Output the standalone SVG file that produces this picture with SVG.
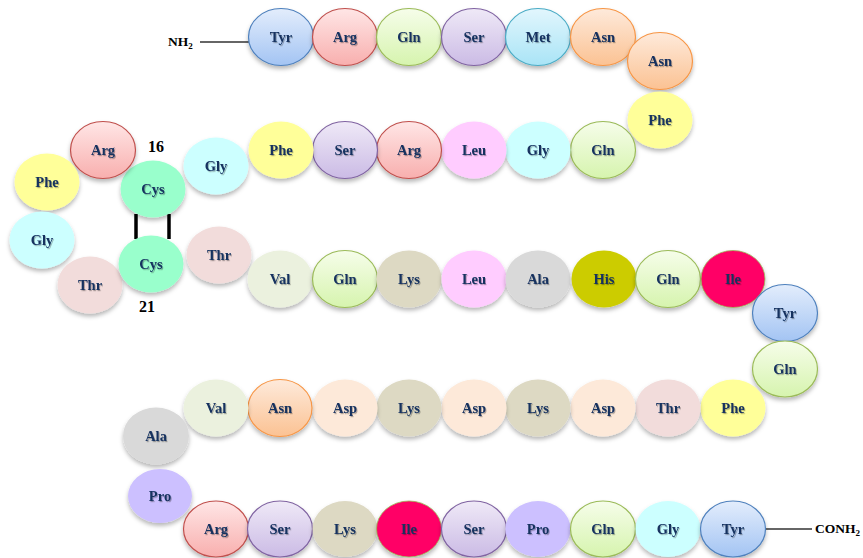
<svg xmlns="http://www.w3.org/2000/svg" width="863" height="558" viewBox="0 0 863 558">
<defs>
<linearGradient id="gBlue" x1="0" y1="0" x2="0" y2="1"><stop offset="0" stop-color="#e3edfc"/><stop offset="1" stop-color="#a3c4f3"/></linearGradient>
<linearGradient id="gRed" x1="0" y1="0" x2="0" y2="1"><stop offset="0" stop-color="#ffe6e6"/><stop offset="1" stop-color="#f8afae"/></linearGradient>
<linearGradient id="gGreen" x1="0" y1="0" x2="0" y2="1"><stop offset="0" stop-color="#f6fdea"/><stop offset="1" stop-color="#d6f4ae"/></linearGradient>
<linearGradient id="gPurple" x1="0" y1="0" x2="0" y2="1"><stop offset="0" stop-color="#efe9f7"/><stop offset="1" stop-color="#cbbbe5"/></linearGradient>
<linearGradient id="gCyan" x1="0" y1="0" x2="0" y2="1"><stop offset="0" stop-color="#e2f6fd"/><stop offset="1" stop-color="#a9e4f6"/></linearGradient>
<linearGradient id="gOrange" x1="0" y1="0" x2="0" y2="1"><stop offset="0" stop-color="#feeadb"/><stop offset="1" stop-color="#fbc293"/></linearGradient>
<filter id="sh" x="-20%" y="-20%" width="140%" height="150%"><feDropShadow dx="0" dy="3" stdDeviation="2" flood-color="#000" flood-opacity="0.28"/></filter>
<filter id="tsh" x="-20%" y="-30%" width="140%" height="170%"><feDropShadow dx="1" dy="1.2" stdDeviation="0.6" flood-color="#000" flood-opacity="0.3"/></filter>
</defs>
<style>
ellipse{filter:url(#sh)}
.blue{fill:url(#gBlue);stroke:#4f81bd;stroke-width:1.2}
.red{fill:url(#gRed);stroke:#c0504d;stroke-width:1.2}
.green{fill:url(#gGreen);stroke:#9bbb59;stroke-width:1.2}
.purple{fill:url(#gPurple);stroke:#8064a2;stroke-width:1.2}
.cyan{fill:url(#gCyan);stroke:#4bacc6;stroke-width:1.2}
.orange{fill:url(#gOrange);stroke:#f79646;stroke-width:1.2}
.phe{fill:#ffff99}
.gly{fill:#ccffff}
.thr{fill:#f2dcdb}
.cys{fill:#99ffcc}
.val{fill:#ebf1de}
.lys{fill:#ddd9c3}
.leu{fill:#ffccff}
.ala{fill:#d9d9d9}
.his{fill:#cccc00}
.ile{fill:#ff0066;stroke:#9bbb59;stroke-width:0.8}
.asp{fill:#fde9d9}
.pro{fill:#ccc0ff}
.t{font-family:"Liberation Serif","Times New Roman",serif;font-weight:bold;font-size:14.5px;fill:#14305e;text-anchor:middle;filter:url(#tsh)}
.lbl{font-family:"Liberation Serif","Times New Roman",serif;font-weight:bold;font-size:13.5px;fill:#000}
.num{font-family:"Liberation Serif","Times New Roman",serif;font-weight:bold;font-size:16px;fill:#000;text-anchor:middle}
.ln{stroke:#333;stroke-width:1.3;fill:none}
.ss{stroke:#000;stroke-width:3.5;fill:none}
</style>
<g id="connectors">
<line class="ln" x1="200" y1="42" x2="249" y2="42"/>
<line class="ln" x1="766" y1="529" x2="812" y2="529"/>
<line class="ss" x1="136" y1="214" x2="136" y2="239"/>
<line class="ss" x1="169" y1="214" x2="169" y2="239"/>
</g>
<g id="labels">
<text class="lbl" x="168" y="46">NH<tspan font-size="9" dy="3">2</tspan></text>
<text class="lbl" x="815" y="533">CONH<tspan font-size="9" dy="3">2</tspan></text>
<text class="num" x="156" y="152">16</text>
<text class="num" x="147" y="312">21</text>
</g>
<g id="r1-tyr"><ellipse class="blue" cx="281" cy="37" rx="32.5" ry="28.5"/><text class="t" x="281" y="42">Tyr</text></g>
<g id="r1-arg"><ellipse class="red" cx="345" cy="37" rx="32.5" ry="28.5"/><text class="t" x="345" y="42">Arg</text></g>
<g id="r1-gln"><ellipse class="green" cx="409" cy="37" rx="32.5" ry="28.5"/><text class="t" x="409" y="42">Gln</text></g>
<g id="r1-ser"><ellipse class="purple" cx="474" cy="37" rx="32.5" ry="28.5"/><text class="t" x="474" y="42">Ser</text></g>
<g id="r1-met"><ellipse class="cyan" cx="538" cy="37" rx="32.5" ry="28.5"/><text class="t" x="538" y="42">Met</text></g>
<g id="r1-asn"><ellipse class="orange" cx="603" cy="37" rx="32.5" ry="28.5"/><text class="t" x="603" y="42">Asn</text></g>
<g id="c1-asn"><ellipse class="orange" cx="660" cy="61" rx="32.5" ry="28.5"/><text class="t" x="660" y="66">Asn</text></g>
<g id="c1-phe"><ellipse class="phe" cx="660" cy="120" rx="32.5" ry="28.5"/><text class="t" x="660" y="125">Phe</text></g>
<g id="r2-gln"><ellipse class="green" cx="603" cy="150" rx="32.5" ry="28.5"/><text class="t" x="603" y="155">Gln</text></g>
<g id="r2-gly"><ellipse class="gly" cx="538" cy="150" rx="32.5" ry="28.5"/><text class="t" x="538" y="155">Gly</text></g>
<g id="r2-leu"><ellipse class="leu" cx="474" cy="150" rx="32.5" ry="28.5"/><text class="t" x="474" y="155">Leu</text></g>
<g id="r2-arg"><ellipse class="red" cx="409" cy="150" rx="32.5" ry="28.5"/><text class="t" x="409" y="155">Arg</text></g>
<g id="r2-ser"><ellipse class="purple" cx="345" cy="150" rx="32.5" ry="28.5"/><text class="t" x="345" y="155">Ser</text></g>
<g id="r2-phe"><ellipse class="phe" cx="281" cy="150" rx="32.5" ry="28.5"/><text class="t" x="281" y="155">Phe</text></g>
<g id="r2-gly2"><ellipse class="gly" cx="216" cy="166" rx="32.5" ry="28.5"/><text class="t" x="216" y="171">Gly</text></g>
<g id="cys16"><ellipse class="cys" cx="153" cy="189" rx="32.5" ry="28.5"/><text class="t" x="153" y="194">Cys</text></g>
<g id="l-arg"><ellipse class="red" cx="103" cy="150" rx="32.5" ry="28.5"/><text class="t" x="103" y="155">Arg</text></g>
<g id="l-phe"><ellipse class="phe" cx="47" cy="182" rx="32.5" ry="28.5"/><text class="t" x="47" y="187">Phe</text></g>
<g id="l-gly"><ellipse class="gly" cx="42" cy="240" rx="32.5" ry="28.5"/><text class="t" x="42" y="245">Gly</text></g>
<g id="l-thr"><ellipse class="thr" cx="90" cy="285" rx="32.5" ry="28.5"/><text class="t" x="90" y="290">Thr</text></g>
<g id="cys21"><ellipse class="cys" cx="151" cy="264" rx="32.5" ry="28.5"/><text class="t" x="151" y="269">Cys</text></g>
<g id="r3-thr"><ellipse class="thr" cx="219" cy="255" rx="32.5" ry="28.5"/><text class="t" x="219" y="260">Thr</text></g>
<g id="r3-val"><ellipse class="val" cx="280" cy="279" rx="32.5" ry="28.5"/><text class="t" x="280" y="284">Val</text></g>
<g id="r3-gln"><ellipse class="green" cx="345" cy="279" rx="32.5" ry="28.5"/><text class="t" x="345" y="284">Gln</text></g>
<g id="r3-lys"><ellipse class="lys" cx="409" cy="279" rx="32.5" ry="28.5"/><text class="t" x="409" y="284">Lys</text></g>
<g id="r3-leu"><ellipse class="leu" cx="474" cy="279" rx="32.5" ry="28.5"/><text class="t" x="474" y="284">Leu</text></g>
<g id="r3-ala"><ellipse class="ala" cx="538" cy="279" rx="32.5" ry="28.5"/><text class="t" x="538" y="284">Ala</text></g>
<g id="r3-his"><ellipse class="his" cx="604" cy="279" rx="32.5" ry="28.5"/><text class="t" x="604" y="284">His</text></g>
<g id="r3-gln2"><ellipse class="green" cx="668" cy="279" rx="32.5" ry="28.5"/><text class="t" x="668" y="284">Gln</text></g>
<g id="r3-ile"><ellipse class="ile" cx="733" cy="279" rx="32" ry="28.5"/><text class="t" x="733" y="284">Ile</text></g>
<g id="c2-tyr"><ellipse class="blue" cx="785" cy="313" rx="32.5" ry="28.5"/><text class="t" x="785" y="318">Tyr</text></g>
<g id="c2-gln"><ellipse class="green" cx="785" cy="369" rx="32.5" ry="28"/><text class="t" x="785" y="374">Gln</text></g>
<g id="r4-phe"><ellipse class="phe" cx="733" cy="408" rx="32.5" ry="28.5"/><text class="t" x="733" y="413">Phe</text></g>
<g id="r4-thr"><ellipse class="thr" cx="668" cy="408" rx="32.5" ry="28.5"/><text class="t" x="668" y="413">Thr</text></g>
<g id="r4-asp"><ellipse class="asp" cx="603" cy="408" rx="32.5" ry="28.5"/><text class="t" x="603" y="413">Asp</text></g>
<g id="r4-lys"><ellipse class="lys" cx="538" cy="408" rx="32.5" ry="28.5"/><text class="t" x="538" y="413">Lys</text></g>
<g id="r4-asp2"><ellipse class="asp" cx="474" cy="408" rx="32.5" ry="28.5"/><text class="t" x="474" y="413">Asp</text></g>
<g id="r4-lys2"><ellipse class="lys" cx="409" cy="408" rx="32.5" ry="28.5"/><text class="t" x="409" y="413">Lys</text></g>
<g id="r4-asp3"><ellipse class="asp" cx="345" cy="408" rx="32.5" ry="28.5"/><text class="t" x="345" y="413">Asp</text></g>
<g id="r4-asn"><ellipse class="orange" cx="280" cy="408" rx="32" ry="28.5"/><text class="t" x="280" y="413">Asn</text></g>
<g id="r4-val"><ellipse class="val" cx="216" cy="408" rx="32.5" ry="28.5"/><text class="t" x="216" y="413">Val</text></g>
<g id="c3-ala"><ellipse class="ala" cx="156" cy="436" rx="33" ry="28.5"/><text class="t" x="156" y="441">Ala</text></g>
<g id="c3-pro"><ellipse class="pro" cx="160" cy="496" rx="32" ry="27"/><text class="t" x="160" y="501">Pro</text></g>
<g id="r5-arg"><ellipse class="red" cx="216" cy="529" rx="32.5" ry="28"/><text class="t" x="216" y="534">Arg</text></g>
<g id="r5-ser"><ellipse class="purple" cx="280" cy="529" rx="32.5" ry="28"/><text class="t" x="280" y="534">Ser</text></g>
<g id="r5-lys"><ellipse class="lys" cx="345" cy="529" rx="32.5" ry="28"/><text class="t" x="345" y="534">Lys</text></g>
<g id="r5-ile"><ellipse class="ile" cx="409" cy="529" rx="32.5" ry="28"/><text class="t" x="409" y="534">Ile</text></g>
<g id="r5-ser2"><ellipse class="purple" cx="474" cy="529" rx="32.5" ry="28"/><text class="t" x="474" y="534">Ser</text></g>
<g id="r5-pro"><ellipse class="pro" cx="538" cy="529" rx="32.5" ry="28"/><text class="t" x="538" y="534">Pro</text></g>
<g id="r5-gln"><ellipse class="green" cx="603" cy="529" rx="32.5" ry="28"/><text class="t" x="603" y="534">Gln</text></g>
<g id="r5-gly"><ellipse class="gly" cx="668" cy="529" rx="32.5" ry="28"/><text class="t" x="668" y="534">Gly</text></g>
<g id="r5-tyr"><ellipse class="blue" cx="733" cy="529" rx="32.5" ry="28"/><text class="t" x="733" y="534">Tyr</text></g>
</svg>
